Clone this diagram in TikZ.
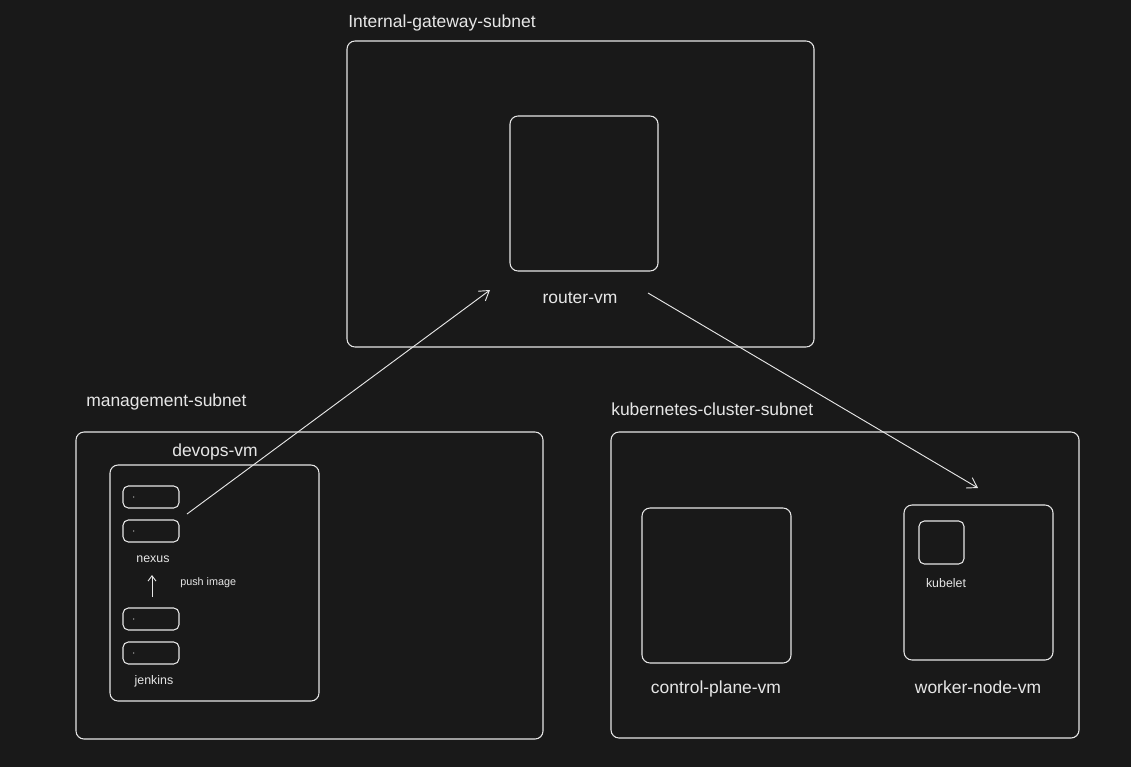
\documentclass[tikz,border=0pt]{standalone}
\usepackage{fontspec}
\setmainfont{Liberation Sans}
\usetikzlibrary{fit,arrows.meta}
\definecolor{bg}{HTML}{191919}
\definecolor{ink}{HTML}{E6E6E6}
\tikzset{
  px/.style={x=0.75pt,y=-0.75pt},
  bigbox/.style={draw=ink,line width=0.8pt,rounded corners=6pt,inner sep=0pt},
  smallbox/.style={draw=ink,line width=0.8pt,rounded corners=4pt,inner sep=0pt},
  biglabel/.style={text=ink,font=\fontsize{13.1}{15}\selectfont,inner sep=0pt},
  smalllabel/.style={text=ink,font=\fontsize{9.3}{11}\selectfont,inner sep=0pt},
  tinylabel/.style={text=ink,font=\fontsize{8.1}{10}\selectfont,inner sep=0pt},
  conn/.style={draw=ink,line width=0.7pt,-{Straight Barb[length=7pt,width=9pt]}},
}
\begin{document}
\begin{tikzpicture}[px]
\fill[bg] (0,0) rectangle (1131,767);
\useasboundingbox (0,0) rectangle (1131,767);
% corner coordinates
\coordinate (g1) at (347,41); \coordinate (g2) at (814,347);
\coordinate (r1) at (510,116); \coordinate (r2) at (658,271);
\coordinate (m1) at (76,432); \coordinate (m2) at (543,739);
\coordinate (d1) at (110,465); \coordinate (d2) at (319,701);
\coordinate (s1a) at (123,486); \coordinate (s1b) at (179,508);
\coordinate (s2a) at (123,520); \coordinate (s2b) at (179,542);
\coordinate (s3a) at (123,608); \coordinate (s3b) at (179,630);
\coordinate (s4a) at (123,642); \coordinate (s4b) at (179,664);
\coordinate (k1) at (611,432); \coordinate (k2) at (1079,738);
\coordinate (c1) at (642,508); \coordinate (c2) at (791,663);
\coordinate (w1) at (904,505); \coordinate (w2) at (1053,660);
\coordinate (kb1) at (919,521); \coordinate (kb2) at (964,564);
% boxes
\node[bigbox,fit=(g1)(g2)] (gw) {};
\node[bigbox,fit=(r1)(r2)] (router) {};
\node[bigbox,fit=(m1)(m2)] (mgmt) {};
\node[bigbox,fit=(d1)(d2)] (devops) {};
\node[smallbox,fit=(s1a)(s1b)] (nx1) {};
\node[smallbox,fit=(s2a)(s2b)] (nx2) {};
\node[smallbox,fit=(s3a)(s3b)] (jk1) {};
\node[smallbox,fit=(s4a)(s4b)] (jk2) {};
\node[bigbox,fit=(k1)(k2)] (kube) {};
\node[bigbox,fit=(c1)(c2)] (cp) {};
\node[bigbox,fit=(w1)(w2)] (worker) {};
\node[smallbox,fit=(kb1)(kb2)] (kubelet) {};
% tiny dots in small boxes
\foreach \n in {nx1,nx2,jk1,jk2}{
  \fill[ink] ([xshift=8.5pt]\n.west) circle (0.45pt);
}
% labels
\node[biglabel,anchor=base west] (lgw) at (348,28) {Internal-gateway-subnet};
\node[biglabel,anchor=base] (lrouter) at (580,303) {router-vm};
\node[biglabel,anchor=base west] (lmgmt) at (86,406) {management-subnet};
\node[biglabel,anchor=base] (ldevops) at (215,456) {devops-vm};
\node[smalllabel,anchor=base] (lnexus) at (153,562) {nexus};
\node[smalllabel,anchor=base] (ljenkins) at (154,684) {jenkins};
\node[tinylabel,anchor=base west] (lpush) at (180,585) {push image};
\node[biglabel,anchor=base west] (lkube) at (611,415) {kubernetes-cluster-subnet};
\node[biglabel,anchor=base] (lcp) at (716,693) {control-plane-vm};
\node[biglabel,anchor=base] (lworker) at (978,693) {worker-node-vm};
\node[smalllabel,anchor=base] (lkubelet) at (946,587) {kubelet};
% connectors
\coordinate (a1s) at (187,514); \coordinate (a1e) at (490,290);
\coordinate (a2s) at (648,293); \coordinate (a2e) at (978,488);
\coordinate (a3s) at (152,597); \coordinate (a3e) at (152,575);
\draw[conn] (a1s) -- (a1e);
\draw[conn] (a2s) -- (a2e);
\draw[draw=ink,line width=0.7pt,-{Straight Barb[length=4pt,width=6pt]}] (a3s) -- (a3e);
\end{tikzpicture}
\end{document}
